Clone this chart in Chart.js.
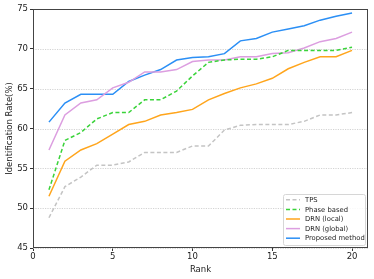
<!DOCTYPE html>
<html>
<head>
<meta charset="utf-8">
<script src="https://cdn.jsdelivr.net/npm/chart.js@4.4.1/dist/chart.umd.min.js"></script>
<style>
  html, body { margin: 0; padding: 0; background: #fff; }
  #wrap { width: 374px; height: 279px; }
</style>
</head>
<body>
<div id="wrap"><canvas id="chart" width="374" height="279"></canvas></div>
<script>
// ranks on the x axis
const ranks = [1, 2, 3, 4, 5, 6, 7, 8, 9, 10, 11, 12, 13, 14, 15, 16, 17, 18, 19, 20];

// identification rate (%) per method
const tps = [48.8, 52.7, 53.9, 55.4, 55.4, 55.8, 57.0, 57.0, 57.0, 57.8, 57.8, 59.8, 60.4, 60.5, 60.5, 60.5, 60.9, 61.7, 61.7, 62.0];
const phaseBased = [52.3, 58.5, 59.5, 61.2, 62.0, 62.0, 63.6, 63.6, 64.7, 66.6, 68.3, 68.6, 68.7, 68.7, 69.0, 69.8, 69.8, 69.8, 69.8, 70.2];
const drnLocal = [51.5, 55.9, 57.3, 58.1, 59.3, 60.5, 60.9, 61.7, 62.0, 62.4, 63.6, 64.4, 65.1, 65.6, 66.3, 67.5, 68.3, 69.0, 69.0, 69.8];
const drnGlobal = [57.3, 61.7, 63.2, 63.6, 65.1, 65.8, 67.1, 67.1, 67.4, 68.4, 68.6, 68.6, 69.0, 69.0, 69.4, 69.5, 70.1, 70.9, 71.3, 72.1];
const proposed = [60.8, 63.2, 64.3, 64.3, 64.3, 65.9, 66.7, 67.4, 68.6, 68.9, 69.0, 69.4, 71.0, 71.3, 72.1, 72.5, 72.9, 73.6, 74.1, 74.5];

const xTicks = [0, 5, 10, 15, 20];
const yTicks = [45, 50, 55, 60, 65, 70, 75];

const font = "'DejaVu Sans', sans-serif";

function pts(vals) {
  return ranks.map((r, i) => ({ x: r, y: vals[i] }));
}

// dotted horizontal grid + matplotlib style frame
const framePlugin = {
  id: "frame",
  beforeDatasetsDraw(chart) {
    const a = chart.chartArea;
    const ctx = chart.ctx;
    const y = chart.scales.y;
    ctx.save();
    ctx.strokeStyle = "#c8c8c8";
    ctx.lineWidth = 0.8;
    ctx.setLineDash([1.2, 1.2]);
    yTicks.forEach(v => {
      const py = Math.round(y.getPixelForValue(v)) + 0.5;
      ctx.beginPath();
      ctx.moveTo(a.left, py);
      ctx.lineTo(a.right, py);
      ctx.stroke();
    });
    ctx.restore();
  },
  afterDraw(chart) {
    const a = chart.chartArea;
    const ctx = chart.ctx;
    ctx.save();
    ctx.strokeStyle = "#444";
    ctx.lineWidth = 1;
    ctx.strokeRect(a.left + 0.5, a.top + 0.5, a.right - a.left - 1, a.bottom - a.top - 1);
    ctx.restore();
  }
};

// legend box inside the lower right corner
const legendPlugin = {
  id: "boxLegend",
  afterDraw(chart) {
    const a = chart.chartArea;
    const ctx = chart.ctx;
    const sets = chart.data.datasets;
    const boxW = 82, boxH = 51, rowH = 9.6;
    const bx = a.right - boxW - 3, by = a.bottom - boxH - 3;
    ctx.save();
    ctx.fillStyle = "rgba(255,255,255,0.85)";
    ctx.strokeStyle = "#d6d6d6";
    ctx.lineWidth = 1;
    ctx.beginPath();
    ctx.roundRect(bx + 0.5, by + 0.5, boxW, boxH, 2);
    ctx.fill();
    ctx.stroke();
    ctx.font = "6.8px " + font;
    ctx.textBaseline = "middle";
    sets.forEach((ds, i) => {
      const y = by + 5.8 + i * rowH;
      ctx.strokeStyle = ds.borderColor;
      ctx.lineWidth = 1.5;
      ctx.setLineDash(ds.borderDash || []);
      ctx.beginPath();
      ctx.moveTo(bx + 3, y);
      ctx.lineTo(bx + 17, y);
      ctx.stroke();
      ctx.setLineDash([]);
      ctx.fillStyle = "#222";
      ctx.fillText(ds.label, bx + 22, y + 0.5);
    });
    ctx.restore();
  }
};

const ctx = document.getElementById("chart").getContext("2d");
new Chart(ctx, {
  type: "line",
  data: {
    datasets: [
      { label: "TPS", data: pts(tps), borderColor: "#c4c4c4", borderDash: [4, 2.5] },
      { label: "Phase based", data: pts(phaseBased), borderColor: "#3ad33a", borderDash: [4, 2.5] },
      { label: "DRN (local)", data: pts(drnLocal), borderColor: "#ffa51c" },
      { label: "DRN (global)", data: pts(drnGlobal), borderColor: "#dc9ee0" },
      { label: "Proposed method", data: pts(proposed), borderColor: "#2b8ff5" }
    ].map(d => Object.assign({ borderWidth: 1.5, pointRadius: 0, tension: 0, fill: false }, d))
  },
  options: {
    responsive: false,
    animation: false,
    layout: { padding: { top: 9, right: 6, left: 0, bottom: 0 } },
    plugins: {
      legend: { display: false },
      tooltip: { enabled: false }
    },
    scales: {
      x: {
        type: "linear",
        min: 0,
        max: 21,
        afterBuildTicks(scale) { scale.ticks = xTicks.map(v => ({ value: v })); },
        afterFit(scale) { scale.height = 31; },
        grid: { drawOnChartArea: false, tickLength: 3, color: "#333" },
        border: { display: false },
        ticks: { color: "#222", font: { family: font, size: 8.5 }, padding: 1, maxRotation: 0 },
        title: { display: true, text: "Rank", color: "#222", font: { family: font, size: 8.5 }, padding: { top: 1, bottom: 4 } }
      },
      y: {
        min: 45,
        max: 75,
        afterBuildTicks(scale) { scale.ticks = yTicks.map(v => ({ value: v })); },
        afterFit(scale) { scale.width = 33; },
        grid: { drawOnChartArea: false, tickLength: 3, color: "#333" },
        border: { display: false },
        ticks: { color: "#222", font: { family: font, size: 8.5 }, padding: 2 },
        title: { display: true, text: "Identification Rate(%)", color: "#222", font: { family: font, size: 8.5 }, padding: { top: 5, bottom: 1 } }
      }
    }
  },
  plugins: [framePlugin, legendPlugin]
});
</script>
</body>
</html>
